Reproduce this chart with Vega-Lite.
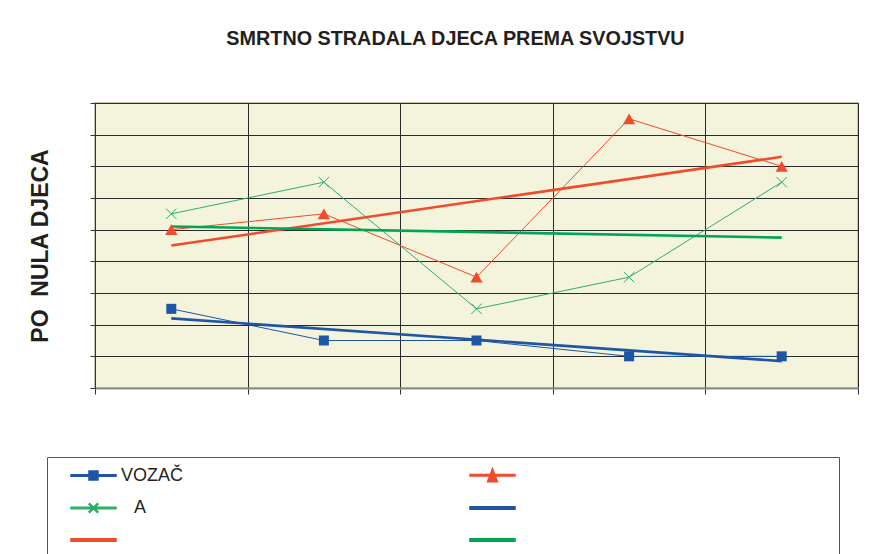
{
  "$schema": "https://vega.github.io/schema/vega-lite/v6.json",
  "width": 763,
  "height": 285,
  "autosize": {"type": "none"},
  "padding": {"left": 95, "top": 103, "right": 35, "bottom": 166},
  "background": "white",
  "title": {
    "text": "SMRTNO STRADALA DJECA PREMA SVOJSTVU",
    "font": "Liberation Sans",
    "fontSize": 19.8,
    "fontWeight": "bold",
    "color": "#231f20",
    "anchor": "middle",
    "dx": -21,
    "offset": 54
  },
  "data": {
    "values": [
      {"cat": "1", "key": "VOZAČ", "kind": "data", "value": 2.5},
      {"cat": "2", "key": "VOZAČ", "kind": "data", "value": 1.5},
      {"cat": "3", "key": "VOZAČ", "kind": "data", "value": 1.5},
      {"cat": "4", "key": "VOZAČ", "kind": "data", "value": 1.0},
      {"cat": "5", "key": "VOZAČ", "kind": "data", "value": 1.0},
      {"cat": "1", "key": "S2", "kind": "data", "value": 5.0},
      {"cat": "2", "key": "S2", "kind": "data", "value": 5.5},
      {"cat": "3", "key": "S2", "kind": "data", "value": 3.5},
      {"cat": "4", "key": "S2", "kind": "data", "value": 8.5},
      {"cat": "5", "key": "S2", "kind": "data", "value": 7.0},
      {"cat": "1", "key": "A", "kind": "data", "value": 5.5},
      {"cat": "2", "key": "A", "kind": "data", "value": 6.5},
      {"cat": "3", "key": "A", "kind": "data", "value": 2.5},
      {"cat": "4", "key": "A", "kind": "data", "value": 3.5},
      {"cat": "5", "key": "A", "kind": "data", "value": 6.5},
      {"cat": "1", "key": "T1", "kind": "trend", "value": 2.2},
      {"cat": "5", "key": "T1", "kind": "trend", "value": 0.85},
      {"cat": "1", "key": "T2", "kind": "trend", "value": 4.5},
      {"cat": "5", "key": "T2", "kind": "trend", "value": 7.3},
      {"cat": "1", "key": "T3", "kind": "trend", "value": 5.1},
      {"cat": "5", "key": "T3", "kind": "trend", "value": 4.75}
    ]
  },
  "encoding": {
    "x": {
      "field": "cat",
      "type": "ordinal",
      "scale": {"domain": ["1", "2", "3", "4", "5"], "paddingInner": 0, "paddingOuter": 0},
      "axis": {
        "labels": false,
        "title": null,
        "tickBand": "extent",
        "grid": true,
        "gridColor": "#2b2b2b",
        "gridWidth": 1,
        "ticks": true,
        "tickSize": 6,
        "tickColor": "#333333",
        "domainColor": "#8a8a8a",
        "domainWidth": 2
      }
    },
    "y": {
      "field": "value",
      "type": "quantitative",
      "scale": {"domain": [0, 9], "nice": false},
      "axis": {
        "values": [0, 1, 2, 3, 4, 5, 6, 7, 8, 9],
        "labels": false,
        "title": "PO\u00a0 NULA DJECA",
        "titleFont": "Liberation Sans",
        "titleFontSize": 23,
        "titleFontWeight": "bold",
        "titleColor": "#231f20",
        "titleBaseline": "alphabetic",
        "titlePadding": 42,
        "grid": true,
        "gridColor": "#2b2b2b",
        "gridWidth": 1,
        "tickSize": 5,
        "tickColor": "#333333",
        "domainColor": "#333333"
      }
    },
    "color": {
      "field": "key",
      "type": "nominal",
      "scale": {
        "domain": ["VOZAČ", "S2", "A", "T1", "T2", "T3"],
        "range": ["#1F55A5", "#EF4B2C", "#2DB066", "#1F55A5", "#EF4B2C", "#00A651"]
      },
      "legend": {
        "orient": "none",
        "legendX": -48,
        "legendY": 354,
        "direction": "horizontal",
        "columns": 2,
        "title": null,
        "symbolSize": 400,
        "symbolOffset": 28.5,
        "labelFont": "Liberation Sans",
        "labelFontSize": 18,
        "labelColor": "#231f20",
        "labelOffset": 16.5,
        "labelLimit": 2000,
        "columnPadding": 269,
        "rowPadding": 12,
        "padding": 7,
        "strokeColor": "#555555",
        "fillColor": "white",
        "labelExpr": "datum.value == 'VOZAČ' ? 'VOZAČ' : datum.value == 'A' ? 'A' : datum.value == 'S2' ? '\\u200b\\u2003\\u2003\\u2003\\u2003\\u2003\\u2003\\u2003\\u2003\\u2003\\u2003\\u2003\\u2003\\u2003\\u2003\\u2003\\u2003\\u2003\\u00a0\\u200b' : ''",
        "encode": {
          "labels": {
            "update": {
              "dx": {"signal": "datum.value == 'A' ? 13 : 0"}
            }
          },
          "symbols": {
            "update": {
              "shape": {"signal": "datum.value == 'VOZAČ' ? 'M-2.25,-0.075H2.25V0.075H-2.25ZM-0.45,-0.45H0.45V0.45H-0.45Z' : datum.value == 'S2' ? 'M-2.25,-0.075H2.25V0.075H-2.25ZM0,-0.66L0.5,0.64H-0.5Z' : datum.value == 'A' ? 'M-2.25,-0.075H2.25V0.075H-2.25ZM-0.45,-0.38L-0.38,-0.45L0.45,0.38L0.38,0.45ZM0.38,-0.45L0.45,-0.38L-0.38,0.45L-0.45,0.38Z' : 'M-2.25,-0.13H2.25V0.13H-2.25Z'"},
              "fill": {"scale": "color", "field": "value"},
              "stroke": {"value": "transparent"},
              "opacity": {"value": 1}
            }
          }
        }
      }
    }
  },
  "layer": [
    {
      "transform": [{"filter": "datum.kind == 'data'"}],
      "mark": {"type": "line", "strokeWidth": 1}
    },
    {
      "transform": [{"filter": "datum.kind == 'trend'"}],
      "mark": {"type": "line", "strokeWidth": 2.6}
    },
    {
      "transform": [{"filter": "datum.key == 'VOZAČ'"}],
      "mark": {"type": "point", "shape": "square", "filled": true, "size": 100, "opacity": 1}
    },
    {
      "transform": [{"filter": "datum.key == 'S2'"}],
      "mark": {"type": "point", "shape": "triangle-up", "filled": true, "size": 150, "opacity": 1}
    },
    {
      "transform": [{"filter": "datum.key == 'A'"}],
      "mark": {"type": "point", "shape": "M-1,-1L1,1M-1,1L1,-1", "filled": false, "size": 110, "strokeWidth": 1, "opacity": 1}
    }
  ],
  "config": {
    "font": "Liberation Sans",
    "view": {"fill": "#F4F3DC", "stroke": "#C8C6B6", "strokeWidth": 2}
  }
}
